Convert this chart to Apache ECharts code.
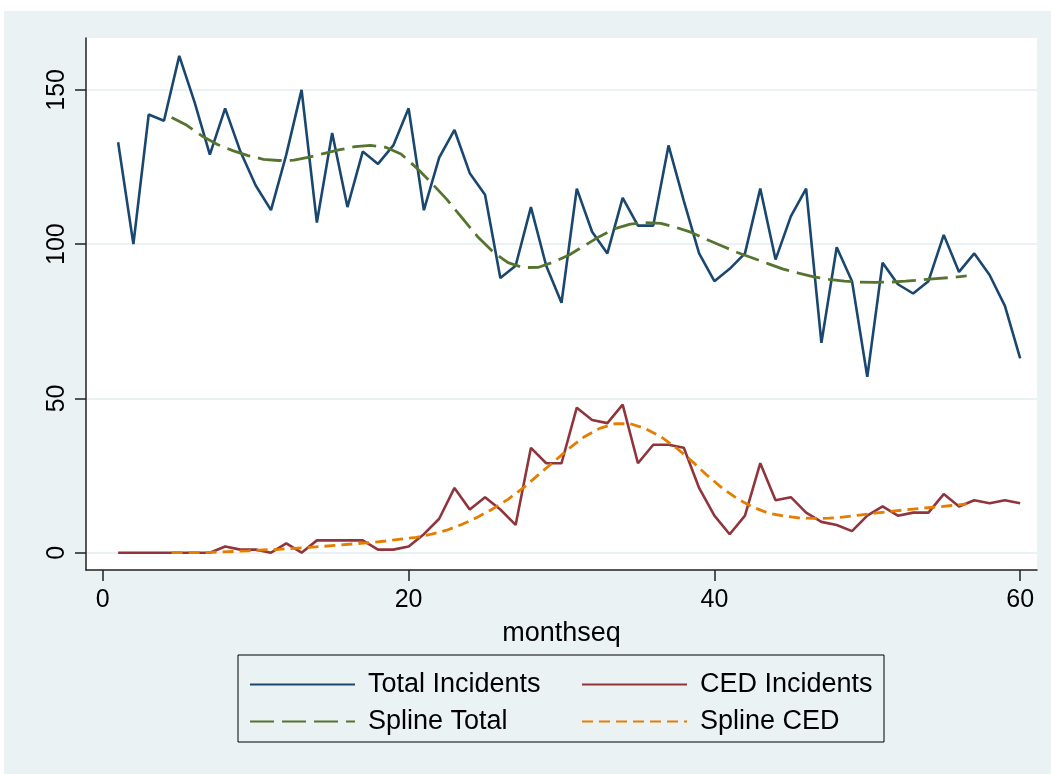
<!DOCTYPE html>
<html>
<head>
<meta charset="utf-8">
<script src="https://cdn.jsdelivr.net/npm/echarts@6/dist/echarts.min.js"></script>
<style>
  html, body { margin: 0; padding: 0; background: #ffffff; }
  #main { position: absolute; left: 4px; top: 11px; width: 1047px; height: 763px; background: #eaf2f3; }
</style>
</head>
<body>
<div id="main"></div>
<script>
  // monthly counts, months 1..60
  var totalIncidents = [133, 100, 142, 140, 161, 146, 129, 144, 130, 119,
    111, 129, 150, 107, 136, 112, 130, 126, 132, 144,
    111, 128, 137, 123, 116, 89, 93, 112, 93, 81,
    118, 104, 97, 115, 106, 106, 132, 114, 97, 88,
    92, 97, 118, 95, 109, 118, 68, 99, 88, 57,
    94, 87, 84, 88, 103, 91, 97, 90, 80, 63];
  var cedIncidents = [0, 0, 0, 0, 0, 0, 0, 2, 1, 1,
    0, 3, 0, 4, 4, 4, 4, 1, 1, 2,
    6, 11, 21, 14, 18, 14, 9, 34, 29, 29,
    47, 43, 42, 48, 29, 35, 35, 34, 21, 12,
    6, 12, 29, 17, 18, 13, 10, 9, 7, 12,
    15, 12, 13, 13, 19, 15, 17, 16, 17, 16];
  // spline fits, evaluated at months 4.5..56.5
  var splineTotal = [141, 138.5, 135, 132.3, 130.3, 128.7, 127.5, 127.1, 127.2, 128.2,
    129.4, 130.6, 131.6, 132, 131.4, 129.2, 124.8, 119.8, 114.5, 108.5,
    102.5, 97.6, 94, 92.4, 92.5, 94.2, 96.5, 99.5, 102.5, 105,
    106.5, 107, 106.7, 105.4, 103.8, 101.5, 99.4, 97.3, 95.5, 93.7,
    91.9, 90.6, 89.4, 88.6, 88, 87.7, 87.6, 87.7, 88, 88.4,
    88.8, 89.2, 89.7];
  var splineCED = [0, 0, 0, 0.2, 0.4, 0.6, 0.9, 1.1, 1.4, 1.7,
    2.1, 2.5, 2.9, 3.3, 3.8, 4.4, 5, 6, 7.3, 9.2,
    11.5, 14.2, 17.3, 21, 25.3, 29.5, 33.8, 37.6, 40.3, 41.8,
    41.8, 40.2, 37.6, 34, 29.8, 25.2, 21, 17.5, 14.8, 12.9,
    11.9, 11.3, 11.1, 11.2, 11.6, 12.2, 12.8, 13.4, 13.9, 14.4,
    14.8, 15.3, 15.8];
  var xTicks = [0, 20, 40, 60];
  var yTicks = [0, 50, 100, 150];

  function pairs(start, vals) {
    var out = [];
    vals.forEach(function (v, i) { out.push([start + i, v]); });
    return out;
  }

  var myChart = echarts.init(document.getElementById('main'));
  var font = 'Liberation Sans, Arial, sans-serif';

  var legendText = { fontFamily: font, fontSize: 27, color: '#000', lineHeight: 24, padding: [0, 0, 0, 8] };

  var option = {
    animation: false,
    grid: {
      left: 82, top: 27, right: 14, bottom: 204,
      show: true, backgroundColor: '#ffffff', borderWidth: 0
    },
    xAxis: {
      type: 'value',
      min: -1.1, max: 61.1,
      name: 'monthseq',
      nameLocation: 'middle',
      nameGap: 50,
      nameTextStyle: { fontFamily: font, fontSize: 27, color: '#000' },
      axisLine: { show: true, onZero: false, lineStyle: { color: '#222', width: 1.5 } },
      axisTick: { show: true, length: 11, customValues: xTicks, lineStyle: { color: '#222', width: 1.5 } },
      axisLabel: { customValues: xTicks, fontFamily: font, fontSize: 25, color: '#000', margin: 18 },
      splitLine: { show: false }
    },
    yAxis: {
      type: 'value',
      min: -5.6, max: 166.8,
      splitNumber: 4,
      axisLine: { show: true, onZero: false, lineStyle: { color: '#222', width: 1.5 } },
      axisTick: { show: true, length: 11, customValues: yTicks, lineStyle: { color: '#222', width: 1.5 } },
      axisLabel: { customValues: yTicks, rotate: 90, fontFamily: font, fontSize: 25, color: '#000', margin: 16 },
      splitLine: { show: true, lineStyle: { color: '#eaf2f3', width: 2 } }
    },
    legend: [
      {
        data: ['Total Incidents', 'Spline Total'],
        orient: 'vertical', left: 240, top: 655,
        itemWidth: 105, itemHeight: 24, itemGap: 10,
        itemStyle: { opacity: 0 },
        textStyle: legendText
      },
      {
        data: ['CED Incidents', 'Spline CED'],
        orient: 'vertical', left: 572, top: 655,
        itemWidth: 105, itemHeight: 24, itemGap: 10,
        itemStyle: { opacity: 0 },
        textStyle: legendText
      }
    ],
    graphic: [
      {
        type: 'rect',
        shape: { x: 234, y: 644, width: 646, height: 87 },
        style: { fill: 'none', stroke: '#000', lineWidth: 1 },
        silent: true
      }
    ],
    series: [
      {
        name: 'Total Incidents', type: 'line', symbol: 'none',
        data: pairs(1, totalIncidents),
        itemStyle: { color: '#1a476f' },
        lineStyle: { color: '#1a476f', width: 2.6 }
      },
      {
        name: 'CED Incidents', type: 'line', symbol: 'none',
        data: pairs(1, cedIncidents),
        itemStyle: { color: '#90353b' },
        lineStyle: { color: '#90353b', width: 2.6 }
      },
      {
        name: 'Spline Total', type: 'line', symbol: 'none',
        data: pairs(4.5, splineTotal),
        itemStyle: { color: '#55752f' },
        lineStyle: { color: '#55752f', width: 2.8, type: [24, 8] }
      },
      {
        name: 'Spline CED', type: 'line', symbol: 'none',
        data: pairs(4.5, splineCED),
        itemStyle: { color: '#e37e00' },
        lineStyle: { color: '#e37e00', width: 2.8, type: [11, 6] }
      }
    ]
  };

  myChart.setOption(option);
</script>
</body>
</html>
